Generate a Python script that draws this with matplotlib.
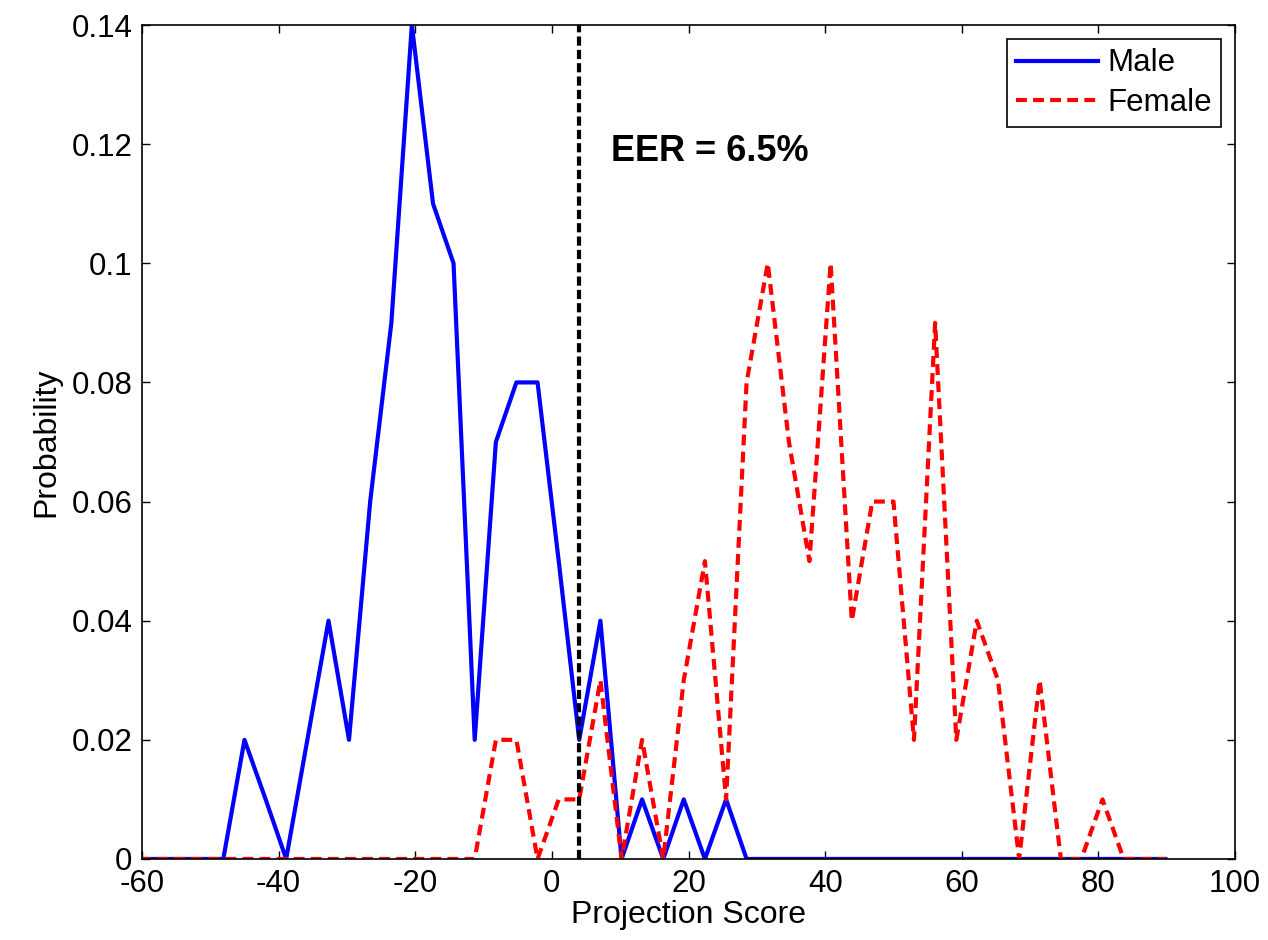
import matplotlib
matplotlib.use("Agg")
import matplotlib.pyplot as plt

plt.rcParams["font.family"] = ["Liberation Sans", "DejaVu Sans"]
plt.rcParams["axes.unicode_minus"] = False

# bin centres of the projection score histogram
score = [-60.3, -57.2, -54.2, -51.1, -48.1, -45.0, -41.9, -38.9, -35.8, -32.7,
         -29.7, -26.6, -23.5, -20.5, -17.4, -14.4, -11.3, -8.2, -5.2, -2.1,
         1.0, 4.0, 7.1, 10.2, 13.2, 16.3, 19.3, 22.4, 25.5, 28.5,
         31.6, 34.7, 37.7, 40.8, 43.9, 46.9, 50.0, 53.0, 56.1, 59.2,
         62.2, 65.3, 68.4, 71.4, 74.5, 77.5, 80.6, 83.7, 86.7, 89.8]

male = [0, 0, 0, 0, 0, 0.02, 0.01, 0, 0.02, 0.04,
        0.02, 0.06, 0.09, 0.14, 0.11, 0.10, 0.02, 0.07, 0.08, 0.08,
        0.05, 0.02, 0.04, 0, 0.01, 0, 0.01, 0, 0.01, 0,
        0, 0, 0, 0, 0, 0, 0, 0, 0, 0,
        0, 0, 0, 0, 0, 0, 0, 0, 0, 0]

female = [0, 0, 0, 0, 0, 0, 0, 0, 0, 0,
          0, 0, 0, 0, 0, 0, 0, 0.02, 0.02, 0,
          0.01, 0.01, 0.03, 0, 0.02, 0, 0.03, 0.05, 0.01, 0.08,
          0.10, 0.07, 0.05, 0.10, 0.04, 0.06, 0.06, 0.02, 0.09, 0.02,
          0.04, 0.03, 0, 0.03, 0, 0, 0.01, 0, 0, 0]

eer_threshold = 4.0
eer_text = "EER = 6.5%"

fig = plt.figure(figsize=(12.68, 9.40), dpi=100)
ax = fig.add_axes([0.112, 0.0862, 0.862, 0.8872])

ax.plot(score, male, color="blue", linewidth=3, label="Male")
ax.plot(score, female, color="red", linewidth=3, dashes=(2.6, 1.5), label="Female")
# equal error rate threshold
ax.plot([eer_threshold, eer_threshold], [0, 0.14], color="black", linewidth=3, dashes=(2.2, 1.0))

ax.text(8.6, 0.1187, eer_text, fontsize=26, fontweight="bold", va="center", ha="left")

ax.set_xlim(-60, 100)
ax.set_ylim(0, 0.14)
ax.set_xticks(range(-60, 101, 20))
ax.set_yticks([0, 0.02, 0.04, 0.06, 0.08, 0.1, 0.12, 0.14])
ax.set_yticklabels(["0", "0.02", "0.04", "0.06", "0.08", "0.1", "0.12", "0.14"])
ax.tick_params(direction="in", top=True, right=True, length=6, width=1, labelsize=22.5, pad=7)
for s in ax.spines.values():
    s.set_linewidth(1.2)

ax.set_xlabel("Projection Score", fontsize=23, labelpad=1)
ax.set_ylabel("Probability", fontsize=23, labelpad=7)

leg = ax.legend(loc="upper right", fontsize=22.5, fancybox=False, framealpha=1,
                edgecolor="black", handlelength=2.6, handletextpad=0.3,
                labelspacing=0.3, borderpad=0.3, borderaxespad=0.45)
leg.get_frame().set_linewidth(1.2)

fig.savefig("out.png", dpi=100)
